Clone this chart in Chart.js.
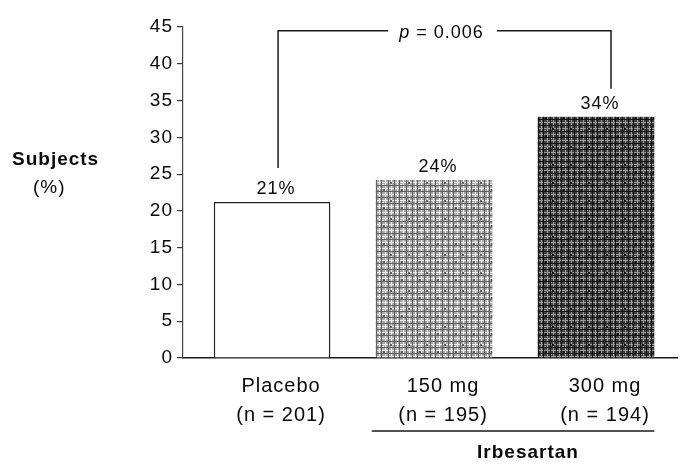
<!DOCTYPE html>
<html><head><meta charset="utf-8">
<script src="https://cdn.jsdelivr.net/npm/chart.js@4"></script>
<style>html,body{margin:0;padding:0;background:#fff}</style>
</head><body>
<canvas id="c" width="680" height="464"></canvas>
<script>
// ---- data ----
const categories = [["Placebo", "(n = 201)"], ["150 mg", "(n = 195)"], ["300 mg", "(n = 194)"]];
const subjectsPct = [21.2, 24.2, 32.8];
const barLabels = ["21%", "24%", "34%"];
const yTicks = [0, 5, 10, 15, 20, 25, 30, 35, 40, 45];
const yTitleLines = ["Subjects", "(%)"];
const pItalic = "p";
const pRest = " = 0.006";
const groupLabel = "Irbesartan";

const FONT = "'Liberation Sans', Arial, Helvetica, sans-serif";
const INK = "#0a0a0a";
const LS = '1px';

function makePattern(base, light, dark) {
  const t = document.createElement('canvas');
  t.width = 18; t.height = 18;
  const g = t.getContext('2d');
  g.fillStyle = base; g.fillRect(0, 0, 18, 18);
  g.fillStyle = light;
  [[1,0,1,18],[7,0,1,18],[13,0,1,18],[0,2,18,1],[0,8,18,1],[0,14,18,1],[4,4,2,2],[10,11,2,2],[15,5,2,1]].forEach(r => g.fillRect(...r));
  g.fillStyle = dark;
  [[3,0,1,18],[10,0,1,18],[16,0,1,18],[0,5,18,1],[0,11,18,1],[0,17,18,1],[5,9,2,2],[12,2,2,2]].forEach(r => g.fillRect(...r));
  return g.createPattern(t, 'repeat');
}

const ctxEl = document.getElementById('c');
const fills = ['#ffffff', makePattern('#a8a8a8', '#ececec', '#606060'), makePattern('#444444', '#9a9a9a', '#121212')];

const spacingPlugin = {
  id: 'spacing',
  beforeLayout(chart) { chart.ctx.letterSpacing = LS; },
  beforeDraw(chart) { chart.ctx.letterSpacing = LS; }
};

const annotPlugin = {
  id: 'annot',
  afterDraw(chart) {
    const ctx = chart.ctx;
    const ys = chart.scales.y;
    const bars = chart.getDatasetMeta(0).data;
    const area = chart.chartArea;
    ctx.save();
    ctx.letterSpacing = LS;
    ctx.fillStyle = INK;
    ctx.textAlign = 'center';
    ctx.textBaseline = 'middle';
    // value labels
    ctx.font = "18px " + FONT;
    bars.forEach((b, i) => ctx.fillText(barLabels[i], b.x + 4, b.y - 13));

    // p-value bracket
    const lx = bars[0].x + 6, rx = bars[2].x + 15;
    const topY = ys.getPixelForValue(44.5);
    const lBottom = bars[0].y - 34, rBottom = bars[2].y - 28;
    ctx.font = "italic 18px " + FONT;
    const wP = ctx.measureText(pItalic).width;
    ctx.font = "18px " + FONT;
    const wR = ctx.measureText(pRest).width;
    const tw = wP + wR;
    const cx = (lx + rx) / 2;
    const tx0 = cx - tw / 2 - 3;
    ctx.strokeStyle = '#1a1a1a';
    ctx.lineWidth = 1.5;
    ctx.beginPath();
    ctx.moveTo(lx, lBottom); ctx.lineTo(lx, topY); ctx.lineTo(tx0 - 11, topY);
    ctx.moveTo(tx0 + tw + 13, topY); ctx.lineTo(rx, topY); ctx.lineTo(rx, rBottom);
    ctx.stroke();
    ctx.textAlign = 'left';
    ctx.font = "italic 18px " + FONT;
    ctx.fillText(pItalic, tx0, topY + 2);
    ctx.font = "18px " + FONT;
    ctx.fillText(pRest, tx0 + wP, topY + 2);

    // Irbesartan group line
    const gl = bars[1].x - bars[1].width / 2 - 4;
    const gr = bars[2].x + bars[2].width / 2;
    const gy = area.bottom + 73;
    ctx.beginPath();
    ctx.moveTo(gl, gy); ctx.lineTo(gr, gy);
    ctx.stroke();
    ctx.textAlign = 'center';
    ctx.font = "bold 19px " + FONT;
    ctx.fillText(groupLabel, (gl + gr) / 2 + 15, area.bottom + 95);

    // y title (horizontal)
    ctx.textAlign = 'left';
    ctx.font = "bold 19px " + FONT;
    ctx.fillText(yTitleLines[0], 12, ys.getPixelForValue(27));
    ctx.font = "19px " + FONT;
    ctx.fillText(yTitleLines[1], 33, ys.getPixelForValue(23.2));
    ctx.restore();
  }
};

new Chart(ctxEl, {
  type: 'bar',
  data: {
    datasets: [{
      data: subjectsPct.map((v, i) => ({ x: i, y: v })),
      backgroundColor: fills,
      borderColor: '#222',
      borderWidth: [1.5, 0, 0],
      borderSkipped: 'bottom',
      barPercentage: 0.72,
      categoryPercentage: 1
    }]
  },
  options: {
    responsive: false,
    animation: false,
    events: [],
    layout: { padding: { top: 27, right: 3, bottom: 0, left: 0 } },
    plugins: { legend: { display: false }, tooltip: { enabled: false } },
    scales: {
      x: {
        type: 'linear',
        offset: false,
        min: -0.55,
        max: 2.5,
        afterBuildTicks(scale) { scale.ticks = categories.map((_, i) => ({ value: i })); },
        afterFit(scale) { scale.height = 106; },
        grid: { display: false, offset: false },
        border: { display: true, color: '#1a1a1a', width: 1.5 },
        ticks: {
          autoSkip: false,
          maxRotation: 0,
          padding: 6,
          labelOffset: 9,
          color: INK,
          font: { family: FONT, size: 20, lineHeight: 1.45 },
          callback: (v) => categories[v]
        }
      },
      y: {
        min: 0,
        max: 45,
        afterBuildTicks(scale) { scale.ticks = yTicks.map(v => ({ value: v })); },
        afterFit(scale) { scale.width = 183; },
        grid: { drawOnChartArea: false, drawTicks: true, tickLength: 6, color: '#333', lineWidth: 1.2 },
        border: { display: true, color: '#444', width: 1.2 },
        ticks: {
          padding: 4,
          color: INK,
          font: { family: FONT, size: 19 },
          callback: (v) => String(v)
        }
      }
    }
  },
  plugins: [spacingPlugin, annotPlugin]
});
</script>
</body></html>
